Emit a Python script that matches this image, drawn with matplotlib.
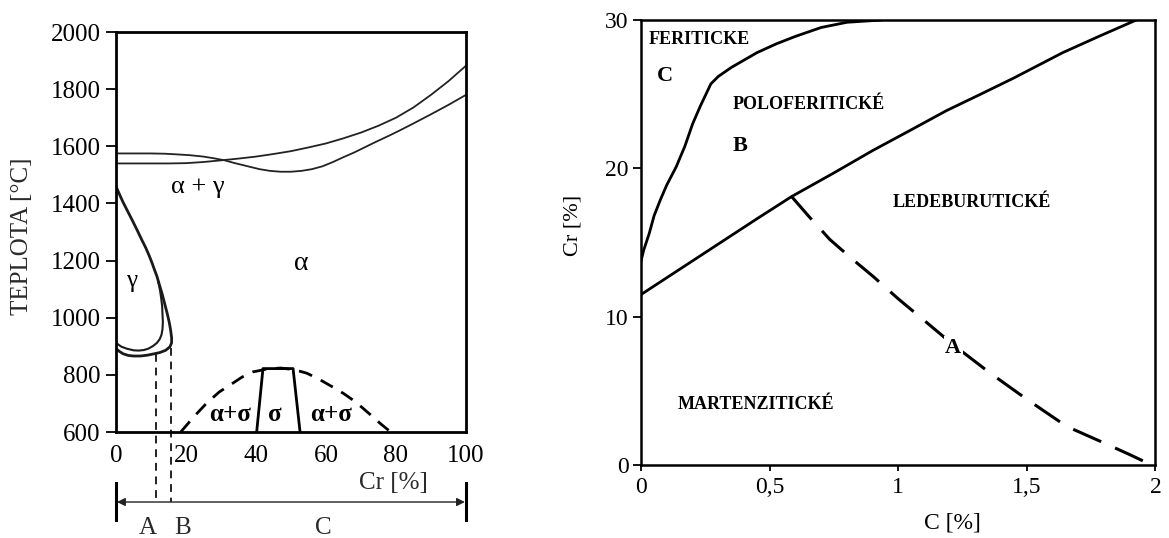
import numpy as np
import matplotlib.pyplot as plt

plt.rcParams['font.family'] = ['Liberation Serif', 'DejaVu Serif']

# ---------------- left panel: Fe-Cr diagram ----------------
# liquidus / solidus lines (Cr %, T degC)
cr_liq = [0, 5, 10, 14, 17, 21, 25, 28, 31, 34, 38, 41, 44, 47, 50, 53, 56, 59, 62, 65,
          68, 71, 74, 78, 81, 85, 90, 95, 100]
t_liq = [1575, 1575, 1575, 1574, 1572, 1569, 1564, 1558, 1551, 1541, 1529, 1520, 1514, 1511,
         1511, 1514, 1520, 1530, 1545, 1562, 1578, 1596, 1614, 1637, 1655, 1680, 1712, 1745, 1780]
cr_sol = [0, 10, 15, 20, 25, 31, 35, 40, 45, 50, 55, 60, 65, 70, 75, 80, 85, 90, 95, 100]
t_sol = [1540, 1540, 1540, 1541, 1545, 1552, 1557, 1564, 1573, 1583, 1596, 1610, 1628, 1648,
         1672, 1700, 1736, 1780, 1828, 1882]

# gamma loop, outer and inner curve
cr_gam_out = [0, 1, 2, 3.2, 4.5, 6, 7.4, 8.5, 9.5, 10.3, 11, 11.7, 12.3, 13.2, 14, 14.7,
              15.2, 15.6, 15.9, 15.9, 15.4, 14.2, 12.5, 11, 9, 7, 5, 3.5, 2, 1, 0]
t_gam_out = [1460, 1432, 1405, 1376, 1345, 1308, 1272, 1245, 1217, 1192, 1168, 1145, 1120,
             1083, 1045, 1012, 985, 958, 930, 912, 898, 886, 878, 874, 869, 866, 866, 868,
             874, 882, 892]
cr_gam_in = [12.1, 12.6, 12.9, 13.2, 13.3, 13.4, 13.3, 13, 12.5, 11.7, 10.6, 9.3, 8, 6.5,
             5, 3, 1.5, 0]
t_gam_in = [1125, 1095, 1070, 1040, 1010, 985, 960, 940, 925, 912, 901, 892, 887, 885,
            886, 892, 899, 912]

# sigma region: dashed dome and solid sigma field
cr_dome = [18.5, 19.7, 22, 25.9, 29.5, 33.4, 36, 39, 43, 47, 51, 54.5, 58, 62, 65, 67.7,
           70.5, 73.5, 75.5, 77.4, 78.5]
t_dome = [600, 617, 650, 701, 740, 771, 792, 810, 820, 824, 818, 806, 785, 757, 735, 712,
          684, 652, 630, 611, 600]
cr_sigma = [40.2, 42, 50.6, 52.6]
t_sigma = [600, 822, 822, 600]

# A / B / C borders (Cr %) and where their dashed lines start (degC)
cr_borders = [11.3, 15.6]
t_borders = [872, 895]

temp_ticks = [600, 800, 1000, 1200, 1400, 1600, 1800, 2000]
cr_ticks = [0, 20, 40, 60, 80, 100]

# ---------------- right panel: stainless steel classes ----------------
c_fer = [0, 0.01, 0.031, 0.05, 0.075, 0.1, 0.136, 0.17, 0.20, 0.23, 0.271, 0.3, 0.35,
         0.40, 0.45, 0.526, 0.6, 0.7, 0.8, 0.932]
cr_fer = [13.8, 14.5, 15.6, 16.8, 17.9, 18.9, 20.1, 21.5, 23.0, 24.2, 25.7, 26.2, 26.8,
          27.3, 27.8, 28.4, 28.9, 29.5, 29.85, 30.0]
c_led = [0, 0.15, 0.3, 0.45, 0.585, 0.75, 0.9, 1.05, 1.188, 1.32, 1.45, 1.639, 1.78, 1.925]
cr_led = [11.5, 13.2, 14.9, 16.6, 18.1, 19.7, 21.2, 22.6, 23.9, 25.0, 26.1, 27.8, 28.9, 30.0]
c_mart = [0.585, 0.65, 0.734, 0.82, 0.903, 1.0, 1.097, 1.214, 1.357, 1.486, 1.57, 1.655,
          1.789, 1.9, 1.985]
cr_mart = [18.1, 16.8, 15.2, 13.9, 12.7, 11.2, 9.8, 8.1, 6.2, 4.6, 3.6, 2.6, 1.57, 0.7, 0]

c_ticks = [0, 0.5, 1, 1.5, 2]
c_ticklabels = ['0', '0,5', '1', '1,5', '2']
cr2_ticks = [0, 10, 20, 30]


fig = plt.figure(figsize=(11.69, 5.38), dpi=100)

############################## LEFT ##############################
ax1 = fig.add_axes([0.0992, 0.197, 0.2994, 0.7435])
ax1.set_xlim(0, 100)
ax1.set_ylim(600, 2000)
for s in ax1.spines.values():
    s.set_linewidth(2.0)

ax1.plot(cr_liq, t_liq, color='#222222', lw=1.3)
ax1.plot(cr_sol, t_sol, color='#222222', lw=1.3)
ax1.plot(cr_gam_out, t_gam_out, color='#1a1a1a', lw=2.0)
ax1.plot(cr_gam_in, t_gam_in, color='#1a1a1a', lw=1.5)
ax1.plot(cr_dome, t_dome, color='black', lw=2.0, dashes=(5, 3.5))
ax1.plot(cr_sigma, t_sigma, color='black', lw=2.0)

# dashed border lines go below the axis down to the arrow line
t_arrow = 355
for cr, t in zip(cr_borders, t_borders):
    ax1.plot([cr, cr], [t, t_arrow], color='#222222', lw=1.4, dashes=(4, 3), clip_on=False)

ax1.set_xticks(cr_ticks)
ax1.set_yticks(temp_ticks)
ax1.tick_params(axis='x', length=0, pad=9, labelsize=18)
ax1.tick_params(axis='y', length=7, width=1.3, pad=4, labelsize=18)

ax1.text(-0.269, 0.49, 'TEPLOTA [°C]', transform=ax1.transAxes, rotation=90,
         ha='center', va='center', fontsize=18, color='#2a2a2a')
ax1.text(79.4, -0.1275, 'Cr [%]', transform=ax1.get_xaxis_transform(),
         ha='center', va='center', fontsize=18, color='#2a2a2a')

# region labels
ax1.text(23.5, 1457, 'α + γ', ha='center', va='center', fontsize=19)
ax1.text(53, 1191, 'α', ha='center', va='center', fontsize=20)
ax1.text(4.5, 1130, 'γ', ha='center', va='center', fontsize=18)
ax1.text(32.6, 660, 'α+σ', ha='center', va='center', fontsize=18, fontweight='bold')
ax1.text(45.4, 660, 'σ', ha='center', va='center', fontsize=18, fontweight='bold')
ax1.text(61.4, 660, 'α+σ', ha='center', va='center', fontsize=18, fontweight='bold')

# A | B | C range arrow under the axis
ax1.annotate('', xy=(0.3, t_arrow), xytext=(99.7, t_arrow), xycoords='data',
             arrowprops=dict(arrowstyle='<|-|>', color='#222222', lw=1.0,
                             mutation_scale=12, shrinkA=0, shrinkB=0),
             annotation_clip=False)
for x in [0, 100]:
    ax1.plot([x, x], [421, 292], color='black', lw=2.2, clip_on=False)
ax1.text(9.1, 264, 'A', ha='center', va='center', fontsize=18, color='#2a2a2a')
ax1.text(18.9, 264, 'B', ha='center', va='center', fontsize=18, color='#2a2a2a')
ax1.text(59.1, 264, 'C', ha='center', va='center', fontsize=18, color='#2a2a2a')

############################## RIGHT ##############################
ax2 = fig.add_axes([0.5485, 0.1357, 0.4399, 0.827])
ax2.set_xlim(0, 2)
ax2.set_ylim(0, 30)
for s in ax2.spines.values():
    s.set_linewidth(1.8)

ax2.plot(c_fer, cr_fer, color='black', lw=2.0)
ax2.plot(c_led, cr_led, color='black', lw=2.0)
ax2.plot(c_mart, cr_mart, color='black', lw=2.2, dashes=(10, 5))

ax2.set_xticks(c_ticks)
ax2.set_xticklabels(c_ticklabels)
ax2.set_yticks(cr2_ticks)
ax2.tick_params(axis='x', length=4, width=1.3, pad=5, labelsize=17)
ax2.tick_params(axis='y', length=6, width=1.3, pad=3, labelsize=17)

ax2.text(1.209, -0.13, 'C [%]', transform=ax2.get_xaxis_transform(),
         ha='center', va='center', fontsize=17)
ax2.text(-0.133, 0.539, 'Cr [%]', transform=ax2.transAxes, rotation=90,
         ha='center', va='center', fontsize=16)

lbl = dict(ha='center', va='center', fontweight='bold', fontsize=13)
ax2.text(0.225, 28.7, 'FERITICKE', **lbl)
ax2.text(0.65, 24.3, 'POLOFERITICKÉ', **lbl)
ax2.text(1.286, 17.7, 'LEDEBURUTICKÉ', **lbl)
ax2.text(0.447, 4.1, 'MARTENZITICKÉ', **lbl)
ax2.text(0.093, 26.2, 'C', ha='center', va='center', fontweight='bold', fontsize=16)
ax2.text(0.386, 21.5, 'B', ha='center', va='center', fontweight='bold', fontsize=16)
ax2.text(1.214, 7.9, 'A', ha='center', va='center', fontweight='bold', fontsize=16,
         bbox=dict(facecolor='white', edgecolor='none', pad=1))

fig.savefig('out.png', dpi=100)
